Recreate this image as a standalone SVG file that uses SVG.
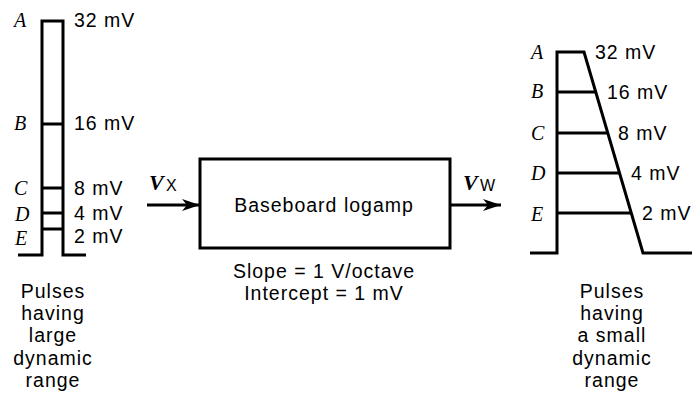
<svg xmlns="http://www.w3.org/2000/svg" width="693" height="394" viewBox="0 0 693 394">
<style>
.ln{fill:none;stroke:#000;stroke-width:3;stroke-linecap:butt;stroke-linejoin:miter}
.t{font-family:"Liberation Sans",Arial,sans-serif;font-size:19.5px;letter-spacing:1px;fill:#000}
.c{text-anchor:middle}
.l{font-family:"Liberation Serif","Times New Roman",serif;font-style:italic;font-size:20px;fill:#000}
.v{font-family:"Liberation Serif","Times New Roman",serif;font-style:italic;font-weight:bold;font-size:22px;fill:#000}
.s{font-family:"Liberation Sans",Arial,sans-serif;font-size:16px;fill:#000}
</style>
<defs>
<marker id="ah" markerWidth="18" markerHeight="12" refX="18" refY="6" orient="auto" markerUnits="userSpaceOnUse">
<path d="M0,0 L18,6 L0,12 L5,6 Z" fill="#000"/>
</marker>
</defs>
<g id="input-pulse">
<path class="ln" d="M18,255 H42 V21 H63 V255 H86"/>
<path class="ln" d="M42,124 H63 M42,188 H63 M42,213 H63 M42,229 H63"/>
<text class="l" x="14" y="27">A</text>
<text class="l" x="14" y="130">B</text>
<text class="l" x="14" y="195">C</text>
<text class="l" x="15" y="221">D</text>
<text class="l" x="15" y="245">E</text>
<text class="t" x="74" y="27">32 mV</text>
<text class="t" x="74" y="130">16 mV</text>
<text class="t" x="74" y="195">8 mV</text>
<text class="t" x="74" y="220">4 mV</text>
<text class="t" x="74" y="243">2 mV</text>
<text class="t c" x="53" y="298">Pulses</text>
<text class="t c" x="53" y="320">having</text>
<text class="t c" x="53" y="342">large</text>
<text class="t c" x="53" y="365">dynamic</text>
<text class="t c" x="53" y="387">range</text>
</g>
<g id="logamp">
<rect class="ln" x="200" y="159" width="250" height="89"/>
<text class="t c" x="324" y="212">Baseboard logamp</text>
<text class="t c" x="324" y="278">Slope = 1 V/octave</text>
<text class="t c" x="324" y="300">Intercept = 1 mV</text>
</g>
<g id="output-pulse">
<path class="ln" d="M530,253 H557 V52 H584 L643,253 H692"/>
<path class="ln" d="M557,92 H596 M557,133 H608 M557,173 H619 M557,213 H631"/>
<text class="l" x="531" y="59">A</text>
<text class="l" x="531" y="98">B</text>
<text class="l" x="531" y="140">C</text>
<text class="l" x="531" y="180">D</text>
<text class="l" x="531" y="221">E</text>
<text class="t" x="595" y="59">32 mV</text>
<text class="t" x="607" y="99">16 mV</text>
<text class="t" x="618" y="140">8 mV</text>
<text class="t" x="631" y="180">4 mV</text>
<text class="t" x="642" y="220">2 mV</text>
<text class="t c" x="612" y="298">Pulses</text>
<text class="t c" x="612" y="320">having</text>
<text class="t c" x="612" y="342">a small</text>
<text class="t c" x="612" y="365">dynamic</text>
<text class="t c" x="612" y="387">range</text>
</g>
<g id="connectors">
<line class="ln" x1="147" y1="205" x2="200" y2="205" marker-end="url(#ah)"/>
<line class="ln" x1="450" y1="205" x2="501" y2="205" marker-end="url(#ah)"/>
<text class="v" x="149" y="190">V</text>
<text class="s" x="166" y="191">X</text>
<text class="v" x="463" y="190">V</text>
<text class="s" x="480" y="191">W</text>
</g>
</svg>
